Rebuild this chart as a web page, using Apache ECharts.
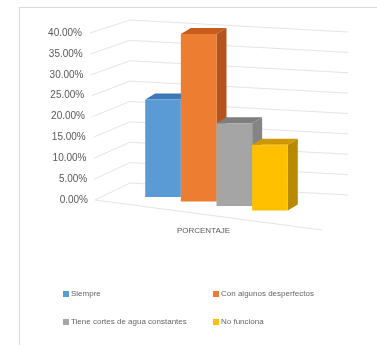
<!DOCTYPE html>
<html>
<head>
<meta charset="utf-8">
<script src="https://cdn.jsdelivr.net/npm/echarts@6/dist/echarts.min.js"></script>
<style>
html,body{margin:0;padding:0;background:#fff;}
#c{width:377px;height:345px;}
</style>
</head>
<body>
<div id="c"></div>
<script>
var categories = ['PORCENTAJE'];
var seriesNames = ['Siempre', 'Con algunos desperfectos', 'Tiene cortes de agua constantes', 'No funciona'];
var seriesValues = [0.23, 0.395, 0.195, 0.155];
var yTicks = [0, 0.05, 0.10, 0.15, 0.20, 0.25, 0.30, 0.35, 0.40];

var frontColors = ['#5B9BD5', '#ED7D31', '#A5A5A5', '#FFC000'];
var topColors = ['#3F78B8', '#C85B1E', '#7E7E7E', '#CC9900'];
var sideColors = ['#3B6FA6', '#B4541C', '#858585', '#B88A00'];

var FONT = "'Liberation Sans Narrow', 'Arial Narrow', 'Liberation Sans', Arial, sans-serif";
var YMAX = 0.4;

var chart = echarts.init(document.getElementById('c'), null, {renderer: 'canvas'});

function gridRender(params, api) {
  var cs = params.coordSys;
  var v = api.value(0);
  var y = api.coord([0, v])[1];
  var t = v / YMAX;
  var xs = cs.x - 10 + (1 - t) * 5;
  var xc = cs.x + 30;
  var yc = y - 13 - (1 - t) * 4;
  var xr = cs.x + 248;
  var yr = yc + 12;
  var children = [{
    type: 'polyline',
    shape: {points: [[xs, y], [xc, yc], [xr, yr]]},
    style: {stroke: '#e4e4e4', lineWidth: 1, fill: null}
  }];
  if (v === 0) {
    children.push({
      type: 'line',
      shape: {x1: xs, y1: y, x2: cs.x + 222, y2: y + 30},
      style: {stroke: '#e4e4e4', lineWidth: 1}
    });
  }
  return {type: 'group', children: children, silent: true};
}

function makeBarRender(i) {
  return function (params, api) {
    var top = api.coord([0, api.value(1)]);
    var base = api.coord([0, 0]);
    var band = api.size([1, 0])[0];
    var bw = band * 0.153;
    var x0 = top[0] - 2 * bw + i * bw;
    var yb = base[1] - 3 + i * 4.5;
    var h = (base[1] - top[1]) * 1.015;
    var yt = yb - h;
    var dx = 10, dy = -6;
    return {
      type: 'group',
      children: [
        {type: 'polygon', shape: {points: [[x0 + bw, yt], [x0 + bw + dx, yt + dy], [x0 + bw + dx, yb + dy], [x0 + bw, yb]]},
          style: {fill: sideColors[i]}},
        {type: 'polygon', shape: {points: [[x0, yt], [x0 + dx, yt + dy], [x0 + bw + dx, yt + dy], [x0 + bw, yt]]},
          style: {fill: topColors[i]}},
        {type: 'rect', shape: {x: x0, y: yt, width: bw, height: h},
          style: {fill: frontColors[i]}}
      ]
    };
  };
}

var rich = {};
yTicks.forEach(function (v, k) {
  rich['r' + k] = {fontSize: 10, color: '#595959', fontFamily: FONT, padding: [0, (v / YMAX) * 6, 0, 0]};
});

var series = [{
  name: 'grid',
  type: 'custom',
  renderItem: gridRender,
  data: yTicks.map(function (v) { return [v]; }),
  encode: {y: 0},
  silent: true,
  z: 1
}];
seriesNames.forEach(function (name, i) {
  series.push({
    name: name,
    type: 'custom',
    renderItem: makeBarRender(i),
    itemStyle: {color: frontColors[i]},
    data: [[0, seriesValues[i]]],
    encode: {x: 0, y: 1},
    z: 2 + i
  });
});

var legendText = {fontSize: 8, color: '#666666', fontFamily: FONT, padding: [0, 0, 0, -3]};

chart.setOption({
  animation: false,
  backgroundColor: '#ffffff',
  graphic: [{
    type: 'rect', left: 17, top: 5, z: 0, silent: true,
    shape: {x: 0, y: 0, width: 400, height: 400},
    style: {fill: null, stroke: '#d9d9d9', lineWidth: 1}
  }],
  grid: {left: 100, right: 44, top: 33, height: 167},
  xAxis: {
    type: 'category',
    data: categories,
    axisLine: {show: false},
    axisTick: {show: false},
    axisLabel: {margin: 27, fontSize: 8, color: '#595959', fontFamily: "'Liberation Sans', Arial, sans-serif", padding: [0, 26, 0, 0]}
  },
  yAxis: {
    type: 'value',
    min: 0, max: YMAX, interval: 0.05,
    axisLine: {show: false},
    axisTick: {show: false},
    splitLine: {show: false},
    axisLabel: {
      margin: 12,
      formatter: function (v) {
        var k = Math.round(v / 0.05);
        return '{r' + k + '|' + (v * 100).toFixed(2) + '%}';
      },
      rich: rich
    }
  },
  legend: [{
    data: [seriesNames[0], seriesNames[2]],
    orient: 'vertical', left: 58, top: 285,
    itemWidth: 6, itemHeight: 6, itemGap: 20, icon: 'rect',
    textStyle: legendText
  }, {
    data: [seriesNames[1], seriesNames[3]],
    orient: 'vertical', left: 208, top: 285,
    itemWidth: 6, itemHeight: 6, itemGap: 20, icon: 'rect',
    textStyle: legendText
  }],
  series: series
});
</script>
</body>
</html>
